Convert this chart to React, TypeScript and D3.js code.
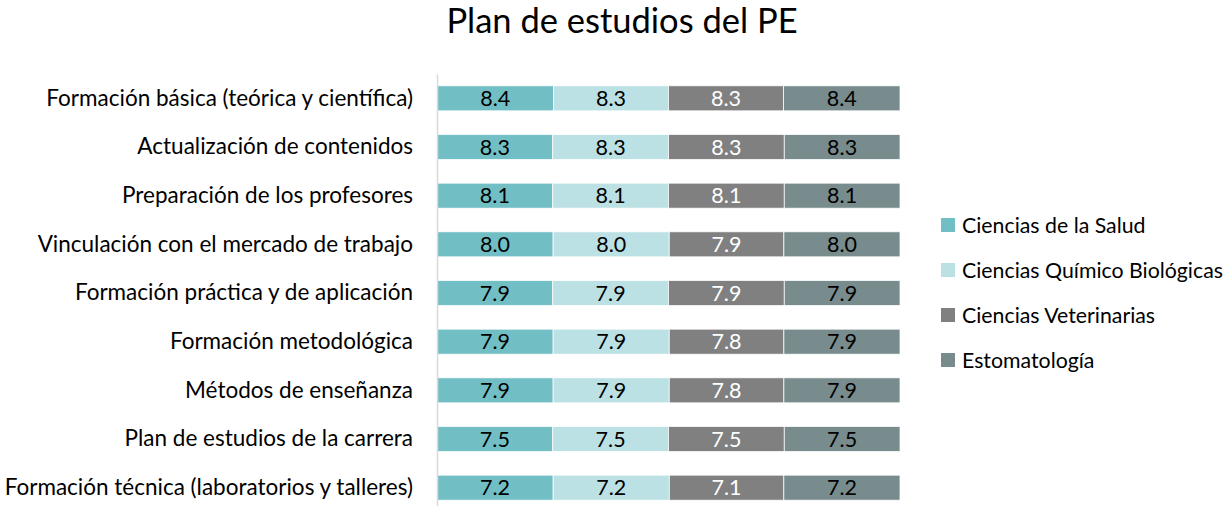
import { useEffect, useRef } from "react";
import * as d3 from "d3";

// categories, top to bottom
const categories = [
  "Formación básica (teórica y científica)",
  "Actualización de contenidos",
  "Preparación de los profesores",
  "Vinculación con el mercado de trabajo",
  "Formación práctica y de aplicación",
  "Formación metodológica",
  "Métodos de enseñanza",
  "Plan de estudios de la carrera",
  "Formación técnica (laboratorios y talleres)",
];

const seriesNames = [
  "Ciencias de la Salud",
  "Ciencias Químico Biológicas",
  "Ciencias Veterinarias",
  "Estomatología",
];

const salud = [8.4, 8.3, 8.1, 8.0, 7.9, 7.9, 7.9, 7.5, 7.2];
const quimico = [8.3, 8.3, 8.1, 8.0, 7.9, 7.9, 7.9, 7.5, 7.2];
const veterinarias = [8.3, 8.3, 8.1, 7.9, 7.9, 7.8, 7.8, 7.5, 7.1];
const estomatologia = [8.4, 8.3, 8.1, 8.0, 7.9, 7.9, 7.9, 7.5, 7.2];

const colors = ["#71bfc5", "#bce1e4", "#808080", "#788b8d"];
const labelColors = ["#000", "#000", "#fff", "#000"];

const font = "Lato, 'Open Sans', sans-serif";

export default function App() {
  const ref = useRef<SVGSVGElement>(null);

  useEffect(() => {
    const width = 1230;
    const height = 506;
    const svg = d3.select(ref.current);
    svg.selectAll("*").remove();

    const rows = categories.map((c, i) => ({
      cat: c,
      s0: salud[i],
      s1: quimico[i],
      s2: veterinarias[i],
      s3: estomatologia[i],
    }));
    const keys = ["s0", "s1", "s2", "s3"];
    const stacked = d3.stack<any>().keys(keys).offset(d3.stackOffsetExpand)(rows);

    const x = d3.scaleLinear().domain([0, 1]).range([437, 900]);
    const y = d3.scaleBand().domain(categories).range([74, 512]).paddingInner(0.486).paddingOuter(0.243);

    // title
    svg
      .append("text")
      .attr("x", 622)
      .attr("y", 33)
      .attr("text-anchor", "middle")
      .attr("font-family", font)
      .attr("font-size", 34.5)
      .attr("fill", "#000")
      .text("Plan de estudios del PE");

    // bars
    stacked.forEach((layer, li) => {
      const g = svg.append("g");
      g.selectAll("rect")
        .data(layer)
        .join("rect")
        .attr("x", (d) => x(d[0]))
        .attr("y", (d) => y(d.data.cat)!)
        .attr("width", (d) => x(d[1]) - x(d[0]))
        .attr("height", y.bandwidth())
        .attr("fill", colors[li])
        .attr("stroke", "#fff")
        .attr("stroke-width", 0.75);

      g.selectAll("text")
        .data(layer)
        .join("text")
        .attr("x", (d) => (x(d[0]) + x(d[1])) / 2)
        .attr("y", (d) => y(d.data.cat)! + y.bandwidth() / 2)
        .attr("dy", "0.36em")
        .attr("text-anchor", "middle")
        .attr("font-family", font)
        .attr("font-size", 21.5)
        .attr("fill", labelColors[li])
        .text((d) => (d.data[keys[li]] as number).toFixed(1));
    });

    // category axis
    const axis = svg.append("g").attr("transform", "translate(437,0)");
    axis.call(d3.axisLeft(y).tickSize(0).tickPadding(24));
    axis.select(".domain").attr("stroke", "#d9d9d9").attr("stroke-width", 1.5);
    axis
      .selectAll("text")
      .attr("font-family", font)
      .attr("font-size", 22.5)
      .attr("fill", "#000");

    // legend
    const legend = svg
      .append("g")
      .selectAll("g")
      .data(seriesNames)
      .join("g")
      .attr("transform", (_, i) => `translate(941,${225 + i * 45})`);
    legend
      .append("rect")
      .attr("x", 0)
      .attr("y", -7)
      .attr("width", 14)
      .attr("height", 14)
      .attr("fill", (_, i) => colors[i]);
    legend
      .append("text")
      .attr("x", 21)
      .attr("dy", "0.36em")
      .attr("font-family", font)
      .attr("font-size", 21.3)
      .attr("fill", "#000")
      .text((d) => d);

    svg.attr("width", width).attr("height", height);
  }, []);

  return (
    <svg
      ref={ref}
      width={1230}
      height={506}
      style={{ position: "absolute", left: 0, top: 0, background: "#fff" }}
    />
  );
}
